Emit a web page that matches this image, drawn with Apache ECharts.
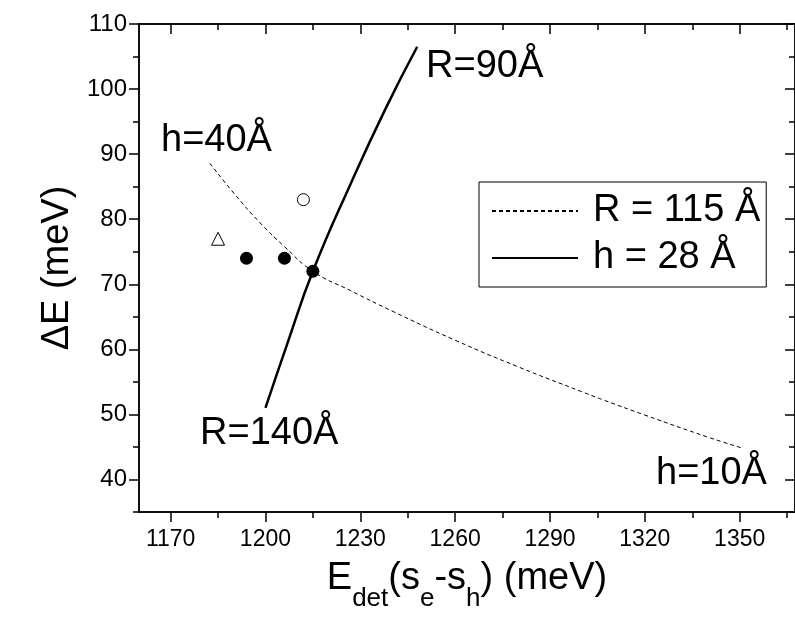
<!DOCTYPE html>
<html>
<head>
<meta charset="utf-8">
<script src="https://cdn.jsdelivr.net/npm/echarts@6/dist/echarts.min.js"></script>
<style>
  html, body { margin: 0; padding: 0; background: #fff; }
  #main { width: 795px; height: 621px; }
</style>
</head>
<body>
<div id="main"></div>
<script>
// dashed curve, R = 115 A (x, y)
const rCurveX = [1182.4, 1190, 1198, 1206, 1215, 1227, 1240, 1260, 1280, 1300, 1307, 1320, 1340, 1351];
const rCurveY = [88.6, 84, 79.6, 75.8, 72, 69, 65.9, 61.4, 57.3, 53.5, 52.2, 49.9, 46.5, 44.8];
// solid curve, h = 28 A
const hCurveX = [1200, 1207, 1215, 1227, 1238, 1248];
const hCurveY = [51, 61, 72, 85.5, 97, 106.5];
// measured points
const filledX = [1194, 1206, 1215];
const filledY = [74, 74, 72];
const openCircle = [1212, 83];
const openTriangle = [1185, 77];

const xMajor = [1170, 1200, 1230, 1260, 1290, 1320, 1350];
const xMinor = [1185, 1215, 1245, 1275, 1305, 1335, 1365];
const yMajor = [40, 50, 60, 70, 80, 90, 100, 110];
const yMinor = [35, 45, 55, 65, 75, 85, 95, 105];

const FONT = 'Liberation Sans, Arial, sans-serif';
const black = '#000';

function pairs(xs, ys) { return xs.map((x, i) => [x, ys[i]]); }
const plain = v => String(v);

function xAx(pos, ticks, len, inside, labels, extra) {
  return Object.assign({
    type: 'value', position: pos, min: 1160, max: 1367.5,
    axisLine: { show: true, onZero: false, lineStyle: { color: black, width: 1.5 } },
    axisTick: { show: true, inside: inside, length: len, customValues: ticks, lineStyle: { color: black, width: 1.5 } },
    axisLabel: labels ? { show: true, customValues: ticks, formatter: plain, color: black, fontSize: 23, fontFamily: FONT, margin: 16 } : { show: false },
    splitLine: { show: false }
  }, extra || {});
}
function yAx(pos, ticks, len, inside, labels, extra) {
  return Object.assign({
    type: 'value', position: pos, min: 35, max: 110,
    axisLine: { show: true, onZero: false, lineStyle: { color: black, width: 1.5 } },
    axisTick: { show: true, inside: inside, length: len, customValues: ticks, lineStyle: { color: black, width: 1.5 } },
    axisLabel: labels ? { show: true, customValues: ticks, formatter: plain, color: black, fontSize: 24, fontFamily: FONT, margin: 12 } : { show: false },
    splitLine: { show: false }
  }, extra || {});
}

const chart = echarts.init(document.getElementById('main'));
const option = {
  animation: false,
  backgroundColor: '#fff',
  grid: { left: 139, top: 24, right: 0, bottom: 109, containLabel: false },
  xAxis: [
    xAx('bottom', xMajor, 10, false, true, {
      name: '{n|E}{s|det}{n|(s}{s|e}{n|-s}{s|h}{n|) (meV)}',
      nameLocation: 'middle', nameGap: 48,
      nameTextStyle: {
        rich: {
          n: { fontSize: 38, fontFamily: FONT, color: black, lineHeight: 52, verticalAlign: 'top' },
          s: { fontSize: 26, fontFamily: FONT, color: black, lineHeight: 26, verticalAlign: 'bottom' }
        }
      }
    }),
    xAx('bottom', xMinor, 6, false, false),
    xAx('top', xMajor, 10, true, false),
    xAx('top', xMinor, 6, true, false)
  ],
  yAxis: [
    yAx('left', yMajor, 10, false, true, {
      name: 'ΔE (meV)', nameLocation: 'middle', nameGap: 62, nameRotate: 90,
      nameTextStyle: { fontSize: 38, fontFamily: FONT, color: black }
    }),
    yAx('left', yMinor, 6, false, false),
    yAx('right', yMajor, 10, true, false),
    yAx('right', yMinor, 6, true, false)
  ],
  legend: {
    orient: 'vertical', left: 479, top: 182,
    data: ['R = 115 Å', 'h = 28 Å'],
    backgroundColor: '#fff',
    borderColor: black, borderWidth: 1,
    padding: [7, 6, 7, 12],
    itemWidth: 86, itemHeight: 14, itemGap: 3,
    itemStyle: { opacity: 0 },
    textStyle: { fontSize: 38, fontFamily: FONT, color: black, lineHeight: 44, padding: [0, 0, 0, 10] }
  },
  series: [
    {
      name: 'R = 115 Å', type: 'line', smooth: true, symbol: 'none',
      data: pairs(rCurveX, rCurveY),
      itemStyle: { color: black },
      lineStyle: { color: black, width: 1, type: [4, 3] }
    },
    {
      name: 'h = 28 Å', type: 'line', smooth: true, symbol: 'none',
      data: pairs(hCurveX, hCurveY),
      itemStyle: { color: black },
      lineStyle: { color: black, width: 2.5 }
    },
    {
      name: 'filled', type: 'scatter', symbol: 'circle', symbolSize: 13,
      data: pairs(filledX, filledY),
      itemStyle: { color: black, opacity: 1 }
    },
    {
      name: 'open', type: 'scatter', symbol: 'circle', symbolSize: 12,
      data: [openCircle],
      itemStyle: { color: '#fff', borderColor: black, borderWidth: 1, opacity: 1 }
    },
    {
      name: 'tri', type: 'scatter', symbol: 'triangle', symbolSize: 13,
      data: [openTriangle],
      itemStyle: { color: '#fff', borderColor: black, borderWidth: 1, opacity: 1 }
    }
  ],
  graphic: [
    { type: 'text', left: 161, top: 122, style: { text: 'h=40Å', fontSize: 38, fontFamily: FONT, fill: black } },
    { type: 'text', left: 426, top: 48, style: { text: 'R=90Å', fontSize: 38, fontFamily: FONT, fill: black } },
    { type: 'text', left: 200, top: 415, style: { text: 'R=140Å', fontSize: 38, fontFamily: FONT, fill: black } },
    { type: 'text', left: 656, top: 455, style: { text: 'h=10Å', fontSize: 38, fontFamily: FONT, fill: black } }
  ]
};
chart.setOption(option);
window.onresize = chart.resize;
</script>
</body>
</html>
